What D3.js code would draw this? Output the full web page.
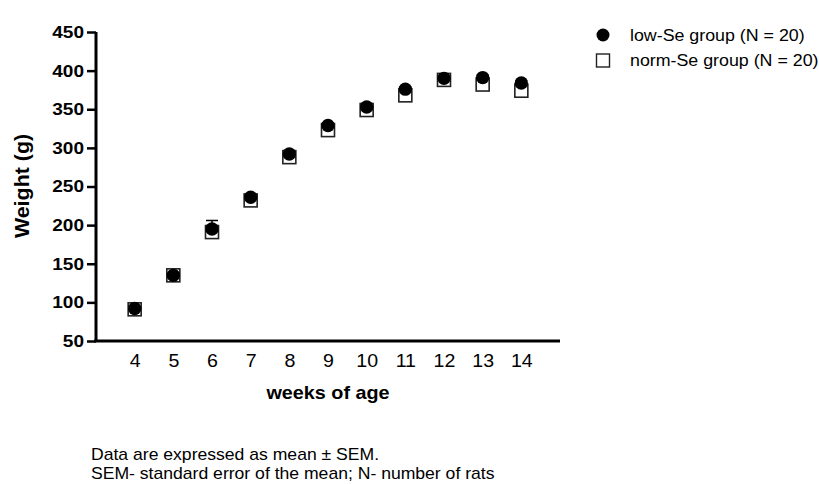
<!DOCTYPE html>
<html>
<head>
<meta charset="utf-8">
<script src="https://cdn.jsdelivr.net/npm/d3@7"></script>
<style>
  body { margin: 0; background: #fff; }
  svg { font-family: Arial, "Liberation Sans", sans-serif; }
</style>
</head>
<body>
<svg id="chart" width="819" height="484"></svg>
<script>
// data
var weeks   = [4, 5, 6, 7, 8, 9, 10, 11, 12, 13, 14];
var lowSe   = [92, 135, 195, 236, 292, 329, 353, 376, 390, 391, 384];
var lowSem  = [3, 3, 11, 3, 3, 3, 3, 3, 3, 3, 3];
var normSe  = [91, 135, 191, 232, 288, 323, 349, 368, 388, 382, 374];
var normSem = [3, 3, 4, 3, 3, 3, 3, 3, 3, 3, 3];
var yTicks  = [50, 100, 150, 200, 250, 300, 350, 400, 450];
var legendLabels = ["low-Se group (N = 20)", "norm-Se group (N = 20)"];
var notes = ["Data are expressed as mean \u00b1 SEM.",
             "SEM- standard error of the mean; N- number of rats"];

var FONT = "Arial, 'Liberation Sans', sans-serif";
var svg = d3.select("#chart");

var x = d3.scaleLinear().domain([3, 15]).range([96, 560]);
var y = d3.scaleLinear().domain([50, 450]).range([341, 32]);

// text in the figure is a bit wider than plain Arial
function label(g, tx, ty, txt, size, sx, rot){
	return g.append("text")
		.attr("transform", "translate(" + tx + "," + ty + ")" + (rot ? " rotate(" + rot + ")" : "") + " scale(" + sx + ",1)")
		.attr("font-size", size)
		.text(txt);
}

// y axis
var ySx = 1.12;
var yAxis = svg.append("g")
	.attr("transform", "translate(96,0)")
	.call(d3.axisLeft(y).tickValues(yTicks).tickSize(9).tickPadding(3));
yAxis.select(".domain").attr("stroke", "#000").attr("stroke-width", 3)
	.attr("d", "M0," + y(450) + "V" + y(50));
yAxis.selectAll(".tick line").attr("stroke-width", 2.5);
yAxis.selectAll(".tick text")
	.attr("font-size", 17).attr("font-weight", "bold")
	.attr("font-family", FONT).attr("fill", "#000")
	.attr("x", -12 / ySx)
	.attr("transform", "scale(" + ySx + ",1)");

// x axis (no tick marks in the original)
var xAxis = svg.append("g")
	.attr("transform", "translate(0," + y(50) + ")")
	.call(d3.axisBottom(x).tickValues(weeks).tickSize(0).tickPadding(13));
xAxis.select(".domain").attr("stroke", "#000").attr("stroke-width", 3)
	.attr("d", "M94,0H560");
xAxis.selectAll(".tick text")
	.attr("font-size", 18.5)
	.attr("font-family", FONT).attr("fill", "#000")
	.attr("transform", "scale(1.06,1)");

// axis titles
label(svg, 29, 186, "Weight (g)", 20, 1.07, -90)
	.attr("text-anchor", "middle").attr("font-weight", "bold");
label(svg, 328, 399, "weeks of age", 18, 1.1)
	.attr("text-anchor", "middle").attr("font-weight", "bold");

// error bars
function drawErr(vals, sems, up){
	var g = svg.append("g").attr("stroke", "#000").attr("stroke-width", 1.5);
	weeks.forEach(function(w, i){
		var yEnd = y(vals[i] + (up ? sems[i] : -sems[i]));
		g.append("line").attr("x1", x(w)).attr("x2", x(w))
			.attr("y1", y(vals[i])).attr("y2", yEnd);
		g.append("line").attr("x1", x(w) - 6).attr("x2", x(w) + 6)
			.attr("y1", yEnd).attr("y2", yEnd);
	});
}
drawErr(normSe, normSem, false);
drawErr(lowSe, lowSem, true);

// norm-Se squares under, low-Se circles on top
svg.append("g").selectAll("rect")
	.data(weeks)
	.join("rect")
		.attr("x", function(d){ return x(d) - 6.5; })
		.attr("y", function(d, i){ return y(normSe[i]) - 6.5; })
		.attr("width", 13).attr("height", 13)
		.attr("fill", "#fff").attr("stroke", "#222").attr("stroke-width", 1.6);

svg.append("g").selectAll("circle")
	.data(weeks)
	.join("circle")
		.attr("cx", function(d){ return x(d); })
		.attr("cy", function(d, i){ return y(lowSe[i]); })
		.attr("r", 6.7)
		.attr("fill", "#000");

// legend
var leg = svg.append("g");
leg.append("circle").attr("cx", 603).attr("cy", 35).attr("r", 6.5).attr("fill", "#000");
leg.append("rect").attr("x", 596.5).attr("y", 54).attr("width", 13).attr("height", 13)
	.attr("fill", "#fff").attr("stroke", "#222").attr("stroke-width", 1.4);
legendLabels.forEach(function(t, i){
	label(leg, 630, 41 + i * 25, t, 16.5, 1.08);
});

// footnote
var foot = svg.append("g");
notes.forEach(function(t, i){
	label(foot, 91, 460 + i * 19, t, 16, 1.1);
});
</script>
</body>
</html>
